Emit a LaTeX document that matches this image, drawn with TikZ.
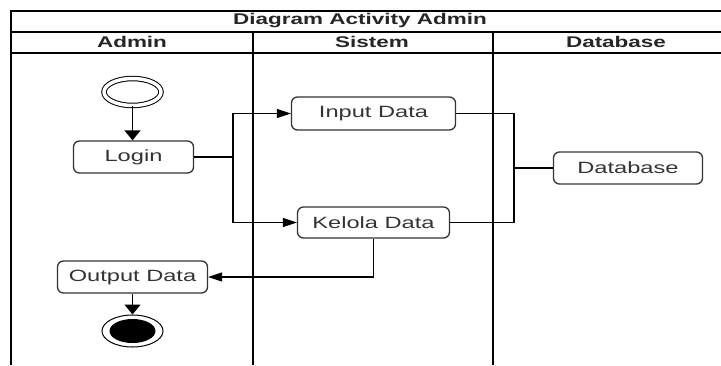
\documentclass[tikz,border=0pt]{standalone}
\usepackage{fontspec}
\setmainfont{Liberation Sans}[FakeStretch=1.45]
\usetikzlibrary{arrows.meta,shapes.geometric}

\begin{document}
\begin{tikzpicture}[x=1pt,y=-1pt,line width=1.3pt,
    font=\fontsize{15.5}{18}\selectfont]
  \tikzset{act/.style={draw=black!80, rounded corners=6pt, inner sep=0,
      text=black!80, minimum height=32pt,
      font=\fontsize{16.3}{19}\selectfont},
    lanehead/.style={font=\fontsize{15.5}{18}\selectfont\bfseries,
      text=black!85, inner sep=0},
    harr/.style={-{Triangle[length=14pt,width=9pt]}},
    varr/.style={-{Triangle[length=10pt,width=16pt]}}}
  \useasboundingbox (0,0) rectangle (721,365);
  % swimlanes
  \draw (721,11) -- (11,11) -- (11,365);
  \draw (11,32) -- (721,32);
  \draw (11,53) -- (721,53);
  \draw (253,32) -- (253,365);
  \draw (493,32) -- (493,365);
  \node[lanehead] (title) at (360,21) {Diagram Activity Admin};
  \node[lanehead] (hadmin) at (132,42) {Admin};
  \node[lanehead] (hsistem) at (372,42) {Sistem};
  \node[lanehead] (hdb) at (616,42) {Database};
  % activities
  \node[ellipse, draw, double, double distance=3.5pt, line width=1pt,
    minimum width=57pt, minimum height=27pt, inner sep=0] (start) at (132.5,92) {};
  \node[act, minimum width=120pt] (login) at (133.5,157) {Login};
  \node[act, minimum width=164pt, minimum height=33pt] (input) at (373.5,113.5) {Input Data};
  \node[act, minimum width=152pt, minimum height=31pt] (kelola) at (373.5,222.5) {Kelola Data};
  \node[act, minimum width=149pt] (db) at (628,168) {Database};
  \node[act, minimum width=150pt] (output) at (132.5,277) {Output Data};
  \node[ellipse, draw, line width=1pt, minimum width=61pt,
    minimum height=32pt, inner sep=0] (endring) at (132.5,331) {};
  \node[ellipse, fill=black, minimum width=46pt, minimum height=24pt,
    inner sep=0] (endcore) at (endring) {};
  % flows
  \coordinate (fork) at (233,157);
  \coordinate (join) at (514,168);
  \draw[varr] (start.south) -- (start.south |- login.north);
  \draw (login.east) -- (fork);
  \draw[harr] (fork) |- (input.west);
  \draw[harr] (fork) |- (kelola.west);
  \draw (input.east) -| (join);
  \draw (kelola.east) -| (join);
  \draw (join) -- (db.west);
  \draw[harr] (kelola.south) |- (output.east);
  \draw[varr] (output.south) -- (endring.north);
\end{tikzpicture}
\end{document}
